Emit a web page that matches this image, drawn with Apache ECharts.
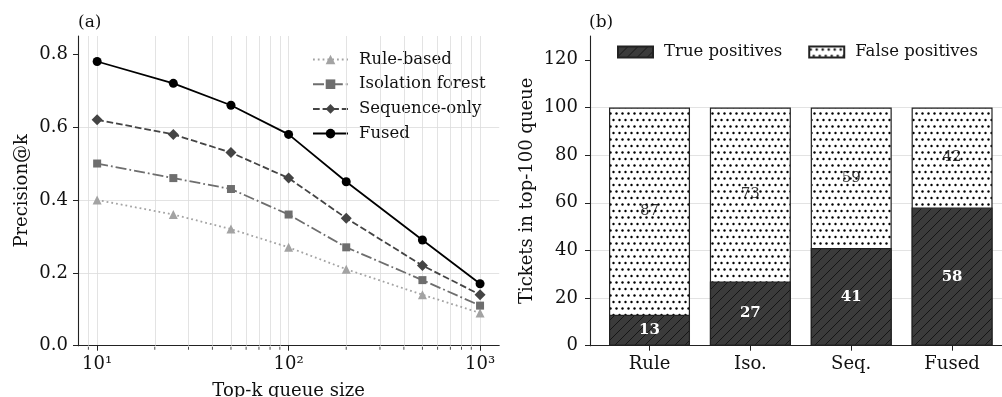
<!DOCTYPE html>
<html>
<head>
<meta charset="utf-8">
<script src="https://cdn.jsdelivr.net/npm/echarts@6/dist/echarts.min.js"></script>
<style>
  html, body { margin: 0; padding: 0; background: #fff; }
  #chart { width: 1002px; height: 397px; }
</style>
</head>
<body>
<div id="chart"></div>
<script>
    // panel (a): precision@k
    var kValues = [10, 25, 50, 100, 200, 500, 1000];
    var ruleBased = [0.40, 0.36, 0.32, 0.27, 0.21, 0.14, 0.09];
    var isoForest = [0.50, 0.46, 0.43, 0.36, 0.27, 0.18, 0.11];
    var seqOnly = [0.62, 0.58, 0.53, 0.46, 0.35, 0.22, 0.14];
    var fused = [0.78, 0.72, 0.66, 0.58, 0.45, 0.29, 0.17];
    // minor log ticks (8 sits on the y spine, so it is left out)
    var minorK = [9, 20, 30, 40, 50, 60, 70, 80, 90, 200, 300, 400, 500, 600, 700, 800, 900];
    var yTicksA = [0, 0.2, 0.4, 0.6, 0.8];

    // panel (b): top-100 queue
    var methods = ['Rule', 'Iso.', 'Seq.', 'Fused'];
    var methodPos = [0, 1, 2, 3];
    var truePos = [13, 27, 41, 58];
    var falsePos = [87, 73, 59, 42];
    var yTicksB = [0, 20, 40, 60, 80, 100, 120];

    var FONT = 'DejaVu Serif';
    var AXIS = '#222';
    var GRID = '#dcdcdc';
    var TXT = '#111';

    function pair(xs, ys) {
        return xs.map(function (x, i) { return [x, ys[i]]; });
    }

    // hatch "///" on dark fill
    function hatchPattern() {
        var c = document.createElement('canvas');
        c.width = 10; c.height = 10;
        var g = c.getContext('2d');
        g.fillStyle = '#3b3b3b';
        g.fillRect(0, 0, 10, 10);
        g.strokeStyle = '#111';
        g.lineWidth = 0.9;
        g.beginPath();
        g.moveTo(0, 10); g.lineTo(10, 0);
        g.moveTo(-1, 1); g.lineTo(1, -1);
        g.moveTo(9, 11); g.lineTo(11, 9);
        g.stroke();
        return c;
    }

    // small dots on white
    function dotPattern() {
        var c = document.createElement('canvas');
        c.width = 12; c.height = 13;
        var g = c.getContext('2d');
        g.fillStyle = '#fff';
        g.fillRect(0, 0, 12, 13);
        g.fillStyle = '#000';
        [[1.5, 3], [7.5, 3], [4.5, 9.5], [10.5, 9.5]].forEach(function (p) {
            g.beginPath();
            g.arc(p[0], p[1], 1.2, 0, Math.PI * 2);
            g.fill();
        });
        return c;
    }

    var hatch = { image: hatchPattern(), repeat: 'repeat' };
    var dots = { image: dotPattern(), repeat: 'repeat' };

    var myChart = echarts.init(document.getElementById('chart'));

    function lineSeries(name, data, color, dash, symbol, size) {
        return {
            name: name,
            type: 'line',
            xAxisIndex: 0,
            yAxisIndex: 0,
            data: pair(kValues, data),
            symbol: symbol,
            symbolSize: size,
            z: 5,
            itemStyle: { color: color },
            lineStyle: { color: color, width: 1.8, type: dash }
        };
    }

    var tickLabel = { fontFamily: FONT, fontSize: 18, color: TXT };

    option = {
        animation: false,
        textStyle: { fontFamily: FONT },
        title: [
            { text: '(a)', left: 78, top: 14.5, padding: 0, textStyle: { fontFamily: FONT, fontWeight: 'normal', fontSize: 17, color: TXT } },
            { text: '(b)', left: 589, top: 14.5, padding: 0, textStyle: { fontFamily: FONT, fontWeight: 'normal', fontSize: 17, color: TXT } }
        ],
        legend: [
            {
                data: ['Rule-based', 'Isolation forest', 'Sequence-only', 'Fused'],
                orient: 'vertical',
                left: 312,
                top: 49.5,
                padding: 0,
                itemWidth: 35,
                itemHeight: 12,
                itemGap: 4.7,
                textStyle: { fontFamily: FONT, fontSize: 16.5, color: TXT, lineHeight: 20, padding: [0, 0, 0, 6] }
            },
            {
                data: ['True positives', 'False positives'],
                orient: 'horizontal',
                left: 617,
                top: 43.5,
                padding: 0,
                itemWidth: 35,
                itemHeight: 11,
                itemGap: 26,
                icon: 'rect',
                textStyle: { fontFamily: FONT, fontSize: 16.5, color: TXT, padding: [0, 0, 0, 6] }
            }
        ],
        grid: [
            { left: 78, right: 502.8, top: 36, bottom: 51.3, outerBoundsMode: 'none' },
            { left: 590, right: -9.6, top: 36, bottom: 51.3, outerBoundsMode: 'none' }
        ],
        xAxis: [
            {
                type: 'log',
                logBase: 10,
                gridIndex: 0,
                min: Math.pow(10, 0.9),
                max: Math.pow(10, 3.1),
                name: 'Top-k queue size',
                nameLocation: 'middle',
                nameGap: 37,
                nameTextStyle: { fontFamily: FONT, fontSize: 18, color: TXT },
                axisLine: { onZero: false, lineStyle: { color: AXIS, width: 1.1 } },
                axisTick: { length: 5, lineStyle: { color: AXIS } },
                axisLabel: Object.assign({}, tickLabel, {
                    margin: 10,
                    showMinLabel: false, showMaxLabel: false,
                    formatter: function (v) {
                        return { 10: '10\u00b9', 100: '10\u00b2', 1000: '10\u00b3' }[Math.round(v)] || '';
                    }
                }),
                splitLine: { show: true, showMinLine: false, showMaxLine: false, lineStyle: { color: GRID, width: 0.8 } }
            },
            {
                type: 'value',
                gridIndex: 1,
                min: -0.59,
                max: 3.59,
                axisLine: { onZero: false, lineStyle: { color: AXIS, width: 1.1 } },
                axisTick: { length: 5, lineStyle: { color: AXIS }, customValues: methodPos },
                axisLabel: Object.assign({}, tickLabel, {
                    margin: 10,
                    customValues: methodPos,
                    formatter: function (v) {
                        var r = Math.round(v);
                        return Math.abs(v - r) < 1e-6 && methods[r] ? methods[r] : '';
                    }
                }),
                splitLine: { show: false }
            }
        ],
        yAxis: [
            {
                type: 'value',
                gridIndex: 0,
                min: 0,
                max: 0.85,
                interval: 0.2,
                name: 'Precision@k',
                nameLocation: 'middle',
                nameGap: 47,
                nameTextStyle: { fontFamily: FONT, fontSize: 18, color: TXT },
                axisLine: { show: true, onZero: false, lineStyle: { color: AXIS, width: 1.1 } },
                axisTick: { show: true, length: 5, lineStyle: { color: AXIS }, customValues: yTicksA },
                axisLabel: Object.assign({}, tickLabel, {
                    margin: 10,
                    customValues: yTicksA,
                    formatter: function (v) { return v.toFixed(1); }
                }),
                splitLine: { show: true, showMaxLine: false, lineStyle: { color: GRID, width: 0.8 } }
            },
            {
                type: 'value',
                gridIndex: 1,
                min: 0,
                max: 130,
                interval: 10,
                name: 'Tickets in top-100 queue',
                nameLocation: 'middle',
                nameGap: 54,
                nameTextStyle: { fontFamily: FONT, fontSize: 18, color: TXT },
                axisLine: { show: true, onZero: false, lineStyle: { color: AXIS, width: 1.1 } },
                axisTick: { show: true, length: 5, lineStyle: { color: AXIS }, customValues: yTicksB },
                axisLabel: Object.assign({}, tickLabel, {
                    margin: 12,
                    customValues: yTicksB
                }),
                splitLine: {
                    show: true, showMaxLine: false,
                    interval: function (i, v) { return v % 20 === 0; },
                    lineStyle: { color: GRID, width: 0.8 }
                }
            }
        ],
        series: [
            {
                // minor log grid lines + minor ticks, kept under the axis line
                name: 'minor',
                type: 'scatter',
                xAxisIndex: 0,
                yAxisIndex: 0,
                data: minorK.map(function (v) { return [v, 0]; }),
                symbol: 'rect',
                symbolSize: [1, 3],
                symbolOffset: [0, 2.5],
                clip: false,
                silent: true,
                z: -1,
                itemStyle: { color: AXIS },
                markLine: {
                    silent: true,
                    symbol: 'none',
                    label: { show: false },
                    lineStyle: { color: GRID, width: 0.8, type: 'solid' },
                    data: minorK.map(function (v) { return { xAxis: v }; })
                }
            },
            lineSeries('Rule-based', ruleBased, '#a3a3a3', [1.8, 3], 'triangle', 9),
            lineSeries('Isolation forest', isoForest, '#6e6e6e', [11, 3, 1.8, 3], 'rect', 8),
            lineSeries('Sequence-only', seqOnly, '#444444', [6.7, 2.9], 'diamond', 11),
            lineSeries('Fused', fused, '#000000', 'solid', 'circle', 9),
            {
                // full column height = TP + FP, overlaid below the TP part
                name: 'False positives',
                type: 'bar',
                xAxisIndex: 1,
                yAxisIndex: 1,
                barWidth: 81,
                barGap: '-100%',
                z: 2,
                data: pair(methodPos, truePos.map(function (t, i) { return t + falsePos[i]; })),
                itemStyle: { color: dots, borderColor: '#222', borderWidth: 1.2 }
            },
            {
                name: 'True positives',
                type: 'bar',
                xAxisIndex: 1,
                yAxisIndex: 1,
                barWidth: 81,
                barGap: '-100%',
                z: 3,
                data: pair(methodPos, truePos),
                itemStyle: { color: hatch, borderColor: '#222', borderWidth: 1.2 },
                label: {
                    show: true, position: 'inside', color: '#fff', fontWeight: 'bold',
                    fontFamily: FONT, fontSize: 15,
                    formatter: function (p) { return p.value[1]; }
                }
            },
            {
                // FP count, centred on the FP segment
                name: 'fpLabel',
                type: 'scatter',
                xAxisIndex: 1,
                yAxisIndex: 1,
                symbolSize: 1,
                itemStyle: { color: 'rgba(0,0,0,0)' },
                silent: true,
                z: 4,
                data: methodPos.map(function (x, i) { return [x, truePos[i] + falsePos[i] / 2, falsePos[i]]; }),
                label: {
                    show: true, position: 'inside', color: '#000',
                    fontFamily: FONT, fontSize: 15,
                    formatter: function (p) { return p.value[2]; }
                }
            }
        ]
    };

    myChart.setOption(option);
</script>
</body>
</html>
